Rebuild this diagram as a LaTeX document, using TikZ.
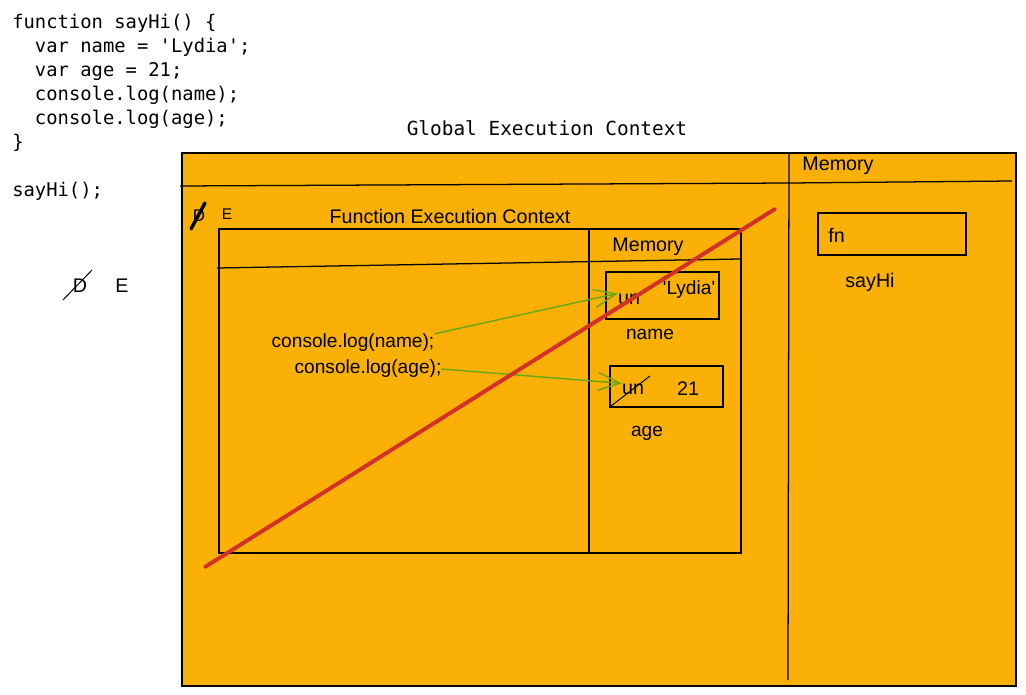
\documentclass[tikz,border=0pt]{standalone}
\usepackage{fontspec}
\setmainfont{Liberation Sans}
\setmonofont{DejaVu Sans Mono}
\usetikzlibrary{arrows.meta}
\definecolor{ctxorange}{HTML}{FAB005}
\definecolor{crossred}{HTML}{D3302A}
\definecolor{ptrgreen}{HTML}{66A80F}
\tikzset{>=Straight Barb,
  frame/.style={draw, line width=0.9pt},
  lbl/.style={font=\fontsize{14}{17}\selectfont, inner sep=0pt},
  hand/.style={font=\fontsize{13.6}{16}\selectfont, inner sep=0pt},
  code/.style={font=\ttfamily\fontsize{13.4}{17.07}\selectfont, align=left, inner sep=0pt},
  ptr/.style={->, draw=ptrgreen, line width=1pt, >={Straight Barb[length=5.5mm,width=4.5mm]}},
  cross/.style={draw=crossred, line width=2.8pt, line cap=round}}

\begin{document}
\begin{tikzpicture}[x=0.025cm,y=-0.025cm]
  \useasboundingbox (0,0) rectangle (1026,695);
  % source code
  \node[code, anchor=north west] (src) at (12,14) {function sayHi() \{\\
  \ \ var name = \textquotesingle Lydia\textquotesingle;\\
  \ \ var age = 21;\\
  \ \ console.log(name);\\
  \ \ console.log(age);\\
  \}\\
  \\
  sayHi();};
  \node[lbl] (dleft) at (80,286) {D};
  \node[lbl] (eleft) at (122,286) {E};
  \draw[line width=0.7pt] (63,300) -- (92,270);
  % global execution context
  \node[code, font=\ttfamily\fontsize{13.8}{17}\selectfont] (gectitle) at (547,128) {Global Execution Context};
  \draw[frame, fill=ctxorange] (182,153) rectangle (1016,686);
  \draw[frame] (180,186) -- (790,183) -- (1012,181);
  \draw[frame] (789,153) -- (788,680);
  \node[lbl] (gmem) at (838,166) {Memory};
  \draw[frame] (818,213) rectangle (966,255);
  \node[lbl, anchor=west] (gfn) at (828,235) {fn};
  \node[lbl] (gsayhi) at (870,282) {sayHi};
  \node[hand, font=\fontsize{12}{14}\selectfont] (dglob) at (199,216) {D};
  \draw[line width=2.4pt, line cap=round] (191,229) -- (205,203);
  \node[hand, font=\fontsize{11}{13}\selectfont] (eglob) at (227,214) {E};
  % function execution context
  \node[lbl] (fectitle) at (450,216) {Function Execution Context};
  \draw[frame] (219,229) rectangle (741,553);
  \draw[frame] (217,268) -- (740,259);
  \draw[frame] (589,229) -- (589,553);
  \node[lbl] (fmem) at (648,247) {Memory};
  \draw[frame] (606,272) rectangle (719,319);
  \node[lbl] (unname) at (629,299) {un};
  \node[hand] (lydia) at (689,290) {\textquotesingle Lydia\textquotesingle};
  \node[hand] (namelbl) at (650,334) {name};
  \draw[frame] (610,366) rectangle (723,407);
  \node[lbl] (unage) at (633,389) {un};
  \node[lbl] (agev) at (688,389) {21};
  \draw[line width=0.7pt] (611,406) -- (650,376);
  \node[hand] (agelbl) at (647,433) {age};
  \node[hand] (logname) at (353,343) {console.log(name);};
  \node[hand] (logage) at (368,369) {console.log(age);};
  \draw[ptr] (logname.north east) -- (unname.north west);
  \draw[ptr] (logage.east) -- (unage.north west);
  \draw[cross] (205,567) -- (775,209);
\end{tikzpicture}
\end{document}
